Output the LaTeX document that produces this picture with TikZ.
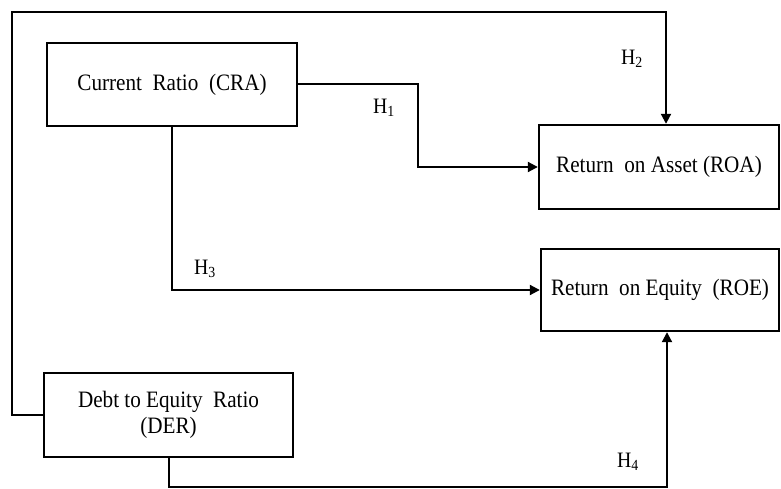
\documentclass[tikz,border=0pt]{standalone}
\usepackage{fontspec}
\setmainfont[FakeStretch=0.9]{Liberation Serif}
\usetikzlibrary{arrows.meta}
\begin{document}
\begin{tikzpicture}[x=1pt,y=-1pt,
  box/.style={draw=black,line width=2.4pt,fill=white,inner sep=0pt,align=center,
    font=\fontsize{23.5}{26}\selectfont},
  conn/.style={draw=black,line width=2pt},
  arr/.style={conn,-{Triangle[length=10pt,width=10pt]}},
  hlab/.style={font=\fontsize{22}{24}\selectfont,inner sep=0pt}]
\useasboundingbox (0,0) rectangle (781,489);
\node[box,minimum width=250pt,minimum height=83pt] (CRA) at (172,84.5) {Current\ \ Ratio\ \ (CRA)};
\node[box,minimum width=240pt,minimum height=84pt] (ROA) at (659,167) {Return\ \ on\ Asset\ (ROA)};
\node[box,minimum width=238pt,minimum height=82pt] (ROE) at (660,290) {Return\ \ on\ Equity\ \ (ROE)};
\node[box,minimum width=249pt,minimum height=84pt] (DER) at (168.5,415) {Debt to Equity\ \ Ratio\\(DER)};
\coordinate (tl) at (12,12);
\coordinate (tr) at (666,12);
\coordinate (hx) at (418,120);
\coordinate (br) at (667,487);
\draw[arr] (DER.west) -| (tl) -- (tr) -- (tr |- ROA.north);
\draw[arr] (CRA.east) -- (CRA.east -| hx) |- (ROA.west);
\draw[arr] (CRA.south) |- (ROE.west);
\draw[arr] (DER.south) |- (br) -- (br |- ROE.south);
\node[hlab] (H1) at (384,108) {H\textsubscript{1}};
\node[hlab] (H2) at (632,59) {H\textsubscript{2}};
\node[hlab] (H3) at (205,269) {H\textsubscript{3}};
\node[hlab] (H4) at (628,462) {H\textsubscript{4}};
\end{tikzpicture}
\end{document}
